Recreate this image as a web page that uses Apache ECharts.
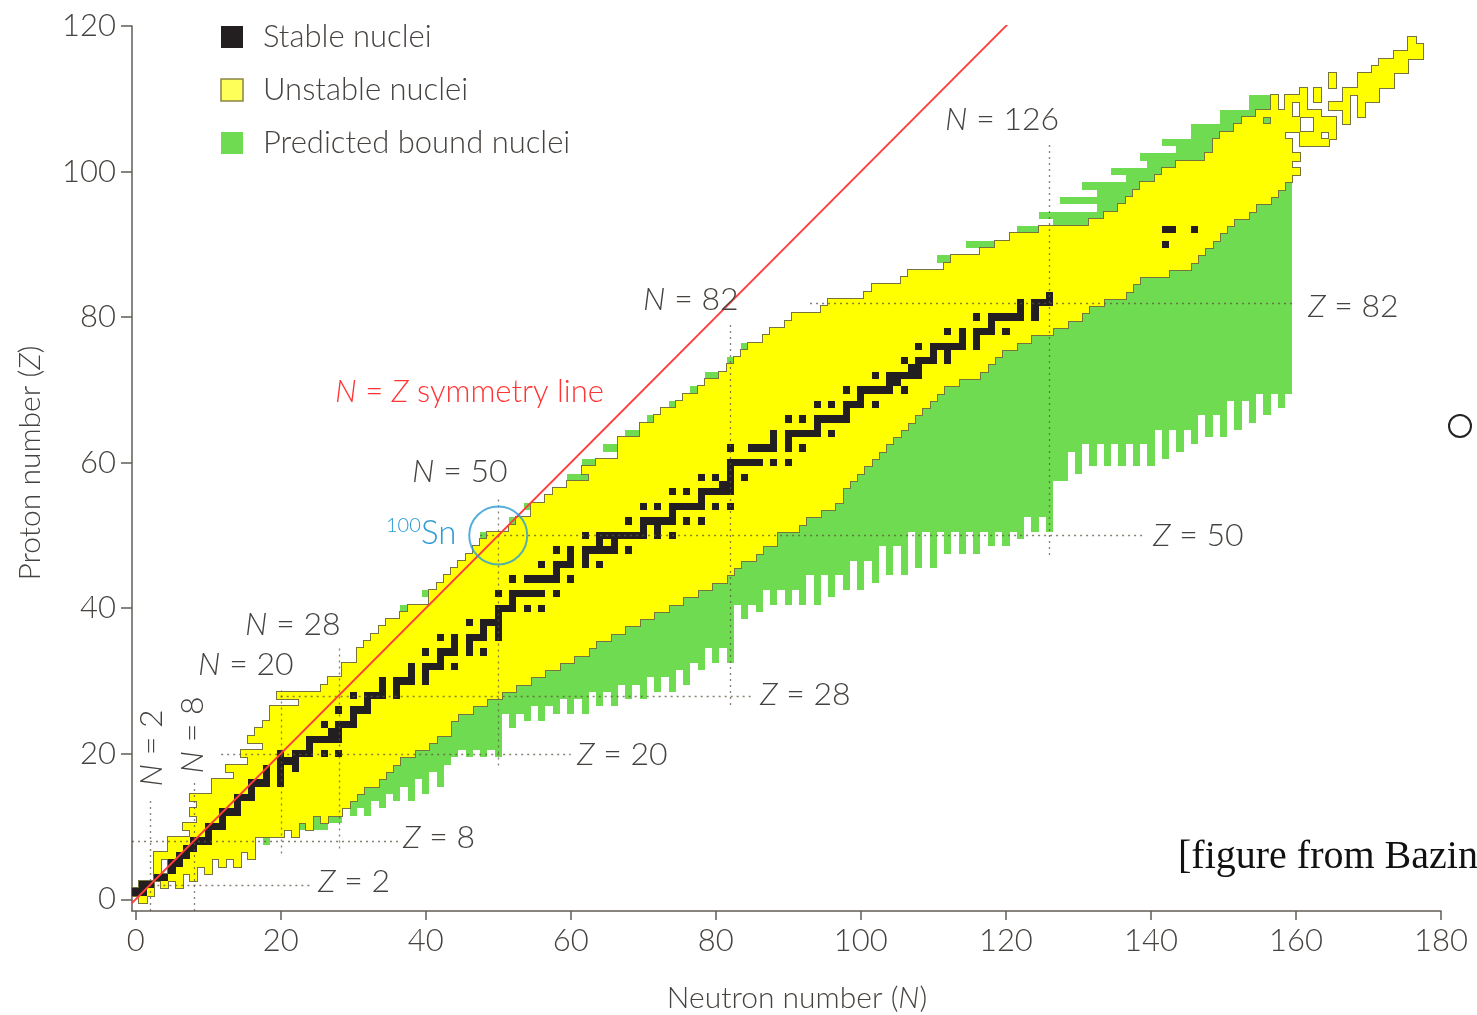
<!DOCTYPE html>
<html><head><meta charset="utf-8">
<script src="https://cdn.jsdelivr.net/npm/echarts@6/dist/echarts.min.js"></script>
<style>html,body{margin:0;padding:0;background:#fff}#chart{width:1477px;height:1015px}</style>
</head><body><div id="chart"></div>
<script>
// ---------------- DATA ----------------
const xTicks = [0, 20, 40, 60, 80, 100, 120, 140, 160, 180];
const yTicks = [0, 20, 40, 60, 80, 100, 120];

// Unstable (known) nuclei: [Z, first N, last N] row segments
const yellowRows = [
[0,1,1],[1,0,2],
[2,1,2],[2,4,4],[2,6,6],
[3,3,6],[3,8,8],
[4,3,3],[4,5,8],[4,10,10],
[5,3,3],[5,5,10],[5,12,12],[5,14,14],
[6,3,14],[6,16,16],[7,5,16],[8,5,16],
[9,8,20],[9,22,22],[10,7,22],[10,24,24],[11,9,24],[11,26,26],
[12,8,28],[13,9,29],[14,8,30],[15,11,31],[16,11,33],[17,14,34],[18,13,35],[19,16,36],
[20,15,38],[21,18,40],[22,16,41],[23,17,43],[24,18,43],[25,19,44],[26,19,46],[27,23,48],
[28,20,50],[29,26,52],[30,27,54],[31,29,56],[32,29,58],[33,31,60],[34,31,62],[35,32,63],
[36,33,65],[37,34,67],[38,35,69],[39,37,71],[40,38,73],[41,41,75],[42,41,77],[43,42,79],
[44,43,81],[45,44,82],[46,45,83],[47,46,85],[48,47,86],[49,48,88],[50,49,88],[51,52,91],
[52,53,92],[53,55,94],[54,55,96],[55,57,97],[56,58,97],[57,60,98],[58,63,99],[59,62,100],
[60,64,101],[61,67,102],[62,67,103],[63,67,104],[64,70,105],[65,70,106],[66,72,107],[67,73,108],
[68,75,109],[69,76,110],[70,78,111],[71,79,113],[72,81,116],[73,82,117],[74,83,118],[75,84,119],
[76,85,121],[77,87,123],[78,88,126],[79,90,128],[80,91,130],[81,95,131],[82,96,133],[83,101,136],
[84,102,137],[85,106,138],[86,107,142],[87,112,145],[88,113,146],[89,117,147],[90,119,148],[91,121,149],
[92,125,150],[93,132,151],[94,134,153],[95,136,154],[96,137,156],[97,138,157],[98,139,158],[99,141,159],
[100,142,160],[101,144,159],[102,148,160],[103,149,159],
[104,149,159],[104,161,164],
[105,150,158],[105,161,163],[105,165,165],
[106,152,160],[106,163,165],
[107,153,155],[107,157,160],[107,163,165],[107,167,167],
[108,155,159],[108,161,163],[108,167,167],[108,169,169],
[109,157,157],[109,159,159],[109,161,161],[109,165,167],[109,169,169],
[110,157,157],[110,159,161],[110,163,163],[110,167,167],[110,169,171],
[111,161,161],[111,163,163],[111,167,171],
[112,165,165],[112,169,173],[113,165,165],[113,169,173],
[114,171,175],[115,172,175],[116,174,177],[117,176,177],[118,176,176]
];

// Stable nuclei: [Z, [N...]]
const stableByZ = [
[1,[0,1]],[2,[1,2]],[3,[3,4]],[4,[5]],[5,[5,6]],[6,[6,7]],[7,[7,8]],[8,[8,9,10]],[9,[10]],
[10,[10,11,12]],[11,[12]],[12,[12,13,14]],[13,[14]],[14,[14,15,16]],[15,[16]],[16,[16,17,18,20]],
[17,[18,20]],[18,[18,20,22]],[19,[20,21,22]],[20,[20,22,23,24,26,28]],[21,[24]],[22,[24,25,26,27,28]],
[23,[27,28]],[24,[26,28,29,30]],[25,[30]],[26,[28,30,31,32]],[27,[32]],[28,[30,32,33,34,36]],
[29,[34,36]],[30,[34,36,37,38,40]],[31,[38,40]],[32,[38,40,41,42,44]],[33,[42]],[34,[40,42,43,44,46,48]],
[35,[44,46]],[36,[42,44,46,47,48,50]],[37,[48,50]],[38,[46,48,49,50]],[39,[50]],[40,[50,51,52,54,56]],
[41,[52]],[42,[50,52,53,54,55,56,58]],[44,[52,54,55,56,57,58,60]],[45,[58]],[46,[56,58,59,60,62,64]],
[47,[60,62]],[48,[58,60,62,63,64,65,66,68]],[49,[64,66]],[50,[62,64,65,66,67,68,69,70,72,74]],
[51,[70,72]],[52,[68,70,71,72,73,74,76,78]],[53,[74]],[54,[70,72,74,75,76,77,78,80,82]],[55,[78]],
[56,[74,76,78,79,80,81,82]],[57,[81,82]],[58,[78,80,82,84]],[59,[82]],[60,[82,83,84,85,86,88,90]],
[62,[82,85,86,87,88,90,92]],[63,[88,90]],[64,[88,90,91,92,93,94,96]],[65,[94]],[66,[90,92,94,95,96,97,98]],
[67,[98]],[68,[94,96,98,99,100,102]],[69,[100]],[70,[98,100,101,102,103,104,106]],[71,[104,105]],
[72,[102,104,105,106,107,108]],[73,[107,108]],[74,[106,108,109,110,112]],[75,[110,112]],
[76,[108,110,111,112,113,114,116]],[77,[114,116]],[78,[112,114,116,117,118,120]],[79,[118]],
[80,[116,118,119,120,121,122,124]],[81,[122,124]],[82,[122,124,125,126]],[83,[126]],
[90,[142]],[92,[142,143,146]]
];

// Predicted bound nuclei, neutron-rich side: lowest Z for each N starting at N = 17
const greenFirstN = 17;
const greenLow = [
9,8,9,9,10,9,10,10,10,10,11,11,13,
12,13,12,14,13,15,14,16,14,17,15,18,16,19,20,21,20,21,20,21,20,
26,24,26,25,27,25,27,26,28,26,28,26,29,27,29,27,30,28,30,28,31,29,31,29,32,30,33,32,35,33,35,33,
41,39,41,40,43,41,43,41,43,41,45,41,45,42,45,43,47,43,47,44,49,45,49,45,51,46,51,46,51,48,51,48,51,48,51,49,51,49,51,50,53,51,53,51,
58,58,62,59,63,60,63,60,63,60,63,60,63,60,65,61,65,62,65,63,67,64,67,64,69,65,69,66,70,67,70,68,70
];

// Predicted bound nuclei, proton-rich side: [Z, first N, last N]
const protonGreenRows = [
[40,37,37],[42,40,40],[50,48,48],[52,52,52],[54,54,54],[58,60,62],[60,62,63],[62,65,66],
[64,68,69],[66,71,71],[68,74,74],[70,77,77],[72,79,80],[74,82,82],[76,84,84],
[88,111,112],[90,115,118],[92,122,124],[93,127,131],[94,125,133],[95,133,135],[96,128,136],
[97,133,137],[98,131,138],[99,137,140],[100,135,141],[101,140,143],[102,139,147],[103,144,148],
[104,142,148],[105,146,149],[106,146,156],[107,150,156],[108,150,157],[109,154,157],[110,154,157]
];

// Magic-number guide lines
const magicN = [[2,-1.6,14],[8,-1.6,16.4],[20,6.3,28.7],[28,7,34.5],[50,18.4,55.4],[82,26.7,79.3],[126,47.3,104]];
const magicZ = [[2,3,24],[8,-0.5,36.4],[20,11.8,60],[28,20,85],[50,47.5,139],[82,93,160]];
const symmetryLine = [[-0.5,-0.5],[120.2,120.2]];
const sn100 = [[50,50]];

// ---------------- BUILD ----------------
const YELLOW = '#ffff00', GREEN = '#6fdb50', BLACK = '#231f20', TXT = '#46423f';
const FONT = 'Lato, "Open Sans", sans-serif';
const FW = 300;

const stableCells = [];
stableByZ.forEach(function (r) { r[1].forEach(function (n) { stableCells.push([r[0], n, n]); }); });

function yellowLowest(n) {
  let best = null;
  yellowRows.forEach(function (r) { if (n >= r[1] && n <= r[2] && (best === null || r[0] < best)) best = r[0]; });
  return best;
}
const greenColumns = [];
greenLow.forEach(function (lo, i) {
  const n = greenFirstN + i, top = yellowLowest(n);
  if (top !== null && top > lo) greenColumns.push([n, lo, top]);
});

function rowRender(fill, ex) {
  return function (params, api) {
    const z = api.value(0), a = api.value(1), b = api.value(2);
    const p0 = api.coord([a - 0.5, z + 0.5]), p1 = api.coord([b + 0.5, z - 0.5]);
    const x0 = Math.round(p0[0]) - ex, y0 = Math.round(p0[1]) - ex;
    const x1 = Math.round(p1[0]) + ex, y1 = Math.round(p1[1]) + ex;
    return { type: 'rect', shape: { x: x0, y: y0, width: x1 - x0, height: y1 - y0 }, style: { fill: fill } };
  };
}
function colRender(fill) {
  return function (params, api) {
    const n = api.value(0), lo = api.value(1), hi = api.value(2);
    const p0 = api.coord([n - 0.5, hi + 0.5]), p1 = api.coord([n + 0.5, lo - 0.5]);
    const x0 = Math.round(p0[0]), y0 = Math.round(p0[1]), x1 = Math.round(p1[0]), y1 = Math.round(p1[1]);
    return { type: 'rect', shape: { x: x0, y: y0, width: x1 - x0, height: y1 - y0 }, style: { fill: fill } };
  };
}
const dotStyle = { stroke: 'rgba(95,85,65,0.75)', lineWidth: 1.3, lineDash: [2, 4] };

function txt(x, y, text, o) {
  o = o || {};
  const fill = o.fill || TXT, size = o.size || 31, fam = o.family || FONT, fw = o.weight || FW;
  const el = { type: 'text', x: x, y: y, z: 100, silent: true,
    style: { text: text, fill: fill, fontSize: size, fontFamily: fam, fontWeight: fw, align: o.align || 'left', verticalAlign: 'middle',
      rich: { i: { fontStyle: 'italic', fill: fill, fontSize: size, fontFamily: fam, fontWeight: fw } } } };
  if (o.rotation !== undefined) el.rotation = o.rotation;
  return el;
}

const chart = echarts.init(document.getElementById('chart'), null, { renderer: 'canvas' });
chart.setOption({
  animation: false,
  backgroundColor: '#ffffff',
  grid: { left: 132, right: 36, top: 26, bottom: 104, containLabel: false, outerBoundsMode: 'none' },
  xAxis: {
    type: 'value', min: -0.5, max: 180,
    axisLine: { show: true, onZero: false, lineStyle: { color: '#625d57', width: 1.5 } },
    axisTick: { show: true, length: 9, customValues: xTicks, lineStyle: { color: '#625d57', width: 1.5 } },
    axisLabel: { customValues: xTicks, margin: 14, fontSize: 31, fontWeight: FW, color: TXT, fontFamily: FONT },
    splitLine: { show: false }
  },
  yAxis: {
    type: 'value', min: -1.6, max: 120,
    axisLine: { show: true, onZero: false, lineStyle: { color: '#625d57', width: 1.5 } },
    axisTick: { show: true, length: 11, customValues: yTicks, lineStyle: { color: '#625d57', width: 1.5 } },
    axisLabel: { customValues: yTicks, margin: 16, fontSize: 31, fontWeight: FW, color: TXT, fontFamily: FONT },
    splitLine: { show: false }
  },
  series: [
    { type: 'custom', name: 'Predicted bound nuclei', z: 1, renderItem: colRender(GREEN),
      encode: { x: 0, y: [1, 2] }, data: greenColumns, itemStyle: { color: GREEN } },
    { type: 'custom', name: 'Predicted bound nuclei', z: 1, renderItem: rowRender(GREEN, 0),
      encode: { x: [1, 2], y: 0 }, data: protonGreenRows, itemStyle: { color: GREEN } },
    { type: 'custom', z: 2, renderItem: rowRender('#77733f', 1),
      encode: { x: [1, 2], y: 0 }, data: yellowRows },
    { type: 'custom', name: 'Unstable nuclei', z: 3, renderItem: rowRender(YELLOW, 0),
      encode: { x: [1, 2], y: 0 }, data: yellowRows, itemStyle: { color: YELLOW } },
    { type: 'custom', name: 'Stable nuclei', z: 4, renderItem: rowRender(BLACK, 0),
      encode: { x: [1, 2], y: 0 }, data: stableCells, itemStyle: { color: BLACK } },
    { type: 'custom', z: 5, renderItem: function (params, api) {
        const p0 = api.coord([api.value(0), api.value(1)]), p1 = api.coord([api.value(0), api.value(2)]);
        return { type: 'line', shape: { x1: Math.round(p0[0]) + 0.5, y1: p0[1], x2: Math.round(p1[0]) + 0.5, y2: p1[1] }, style: dotStyle };
      }, encode: { x: 0, y: [1, 2] }, data: magicN },
    { type: 'custom', z: 5, renderItem: function (params, api) {
        const p0 = api.coord([api.value(1), api.value(0)]), p1 = api.coord([api.value(2), api.value(0)]);
        return { type: 'line', shape: { x1: p0[0], y1: Math.round(p0[1]) + 0.5, x2: p1[0], y2: Math.round(p1[1]) + 0.5 }, style: dotStyle };
      }, encode: { x: [1, 2], y: 0 }, data: magicZ },
    { type: 'line', z: 6, data: symmetryLine, showSymbol: false, silent: true,
      lineStyle: { color: '#ff3d3d', width: 1.8 } },
    { type: 'scatter', z: 7, data: sn100, symbol: 'circle', symbolSize: 58, silent: true,
      itemStyle: { color: 'rgba(0,0,0,0)', borderColor: '#2b9bd6', borderWidth: 2 } }
  ],
  graphic: [
    { type: 'rect', shape: { x: 221, y: 26, width: 22, height: 22 }, style: { fill: BLACK }, silent: true },
    { type: 'rect', shape: { x: 221, y: 79, width: 22, height: 22 }, style: { fill: '#ffff5a', stroke: '#8a8448', lineWidth: 1.5 }, silent: true },
    { type: 'rect', shape: { x: 221, y: 132, width: 22, height: 22 }, style: { fill: GREEN }, silent: true },
    txt(263, 37, 'Stable nuclei', { size: 31 }),
    txt(263, 90, 'Unstable nuclei', { size: 31 }),
    txt(263, 143, 'Predicted bound nuclei', { size: 31 }),
    txt(945, 120, '{i|N} = 126', { size: 32 }),
    txt(643, 300, '{i|N} = 82', { size: 32 }),
    txt(335, 392, '{i|N} = {i|Z} symmetry line', { size: 31, fill: '#ff3535' }),
    txt(412, 472, '{i|N} = 50', { size: 32 }),
    txt(386, 526, '100', { size: 20, fill: '#2b9bd6' }),
    txt(421, 533, 'Sn', { size: 33, fill: '#2b9bd6' }),
    txt(245, 625, '{i|N} = 28', { size: 32 }),
    txt(198, 665, '{i|N} = 20', { size: 32 }),
    txt(1153, 536, '{i|Z} = 50', { size: 32 }),
    txt(1308, 307, '{i|Z} = 82', { size: 32 }),
    txt(760, 695, '{i|Z} = 28', { size: 32 }),
    txt(577, 755, '{i|Z} = 20', { size: 32 }),
    txt(403, 838, '{i|Z} = 8', { size: 32 }),
    txt(318, 882, '{i|Z} = 2', { size: 32 }),
    txt(152, 748, '{i|N} = 2', { size: 32, align: 'center', rotation: Math.PI / 2 }),
    txt(193, 735, '{i|N} = 8', { size: 32, align: 'center', rotation: Math.PI / 2 }),
    txt(797, 998, 'Neutron number ({i|N})', { size: 30, align: 'center' }),
    txt(30, 463, 'Proton number ({i|Z})', { size: 30, align: 'center', rotation: Math.PI / 2 }),
    txt(1178, 857, '[figure from Bazin', { size: 40, fill: '#111', weight: 'normal', family: '"Liberation Serif", "DejaVu Serif", serif' }),
    { type: 'circle', shape: { cx: 1460, cy: 426, r: 11 }, style: { fill: 'none', stroke: '#222', lineWidth: 2 }, silent: true }
  ]
});
</script></body></html>
